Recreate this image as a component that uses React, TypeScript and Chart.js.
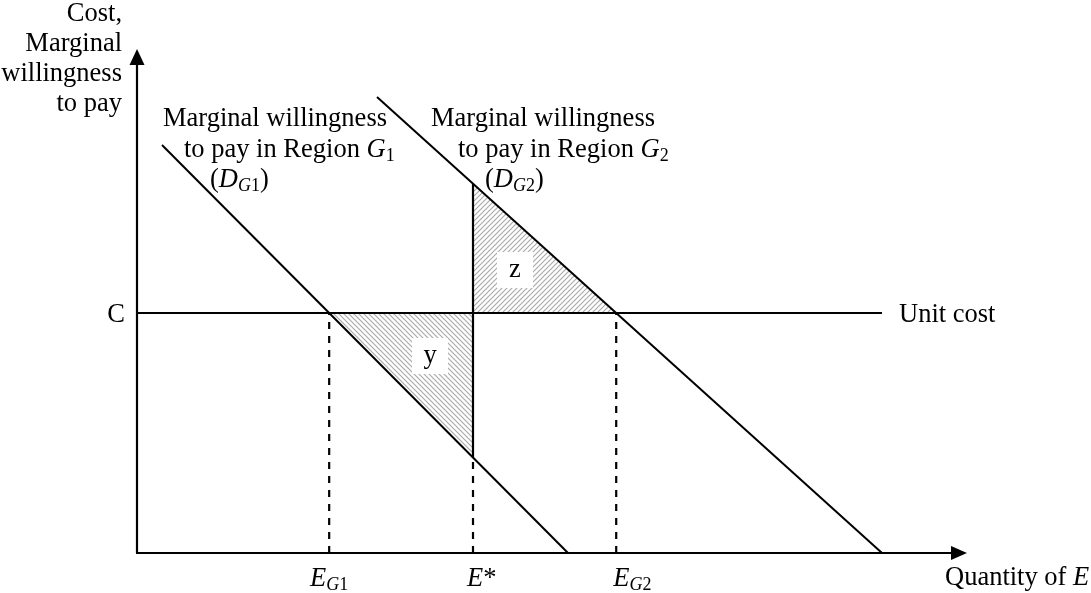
import React, { useEffect, useRef } from "react";
import { Chart, registerables } from "chart.js";

Chart.register(...registerables);

// ---- data (units: quantity on x, cost on y) ----
const demandG1 = [
  { x: 25, y: 408 },
  { x: 431, y: 0 },
];
const demandG2 = [
  { x: 240, y: 456 },
  { x: 745, y: 0 },
];
const UNIT_COST = 240;
const UNIT_COST_END = 745;
const E_STAR = 336;
const X_MAX = 830;
const Y_MAX = 506;
const Y_AXIS_TIP = 504;
const X_AXIS_TIP = 830;

// value of a straight demand line at quantity q
function lineAt(pts: { x: number; y: number }[], q: number) {
  const [a, b] = pts;
  return a.y + ((q - a.x) * (b.y - a.y)) / (b.x - a.x);
}
// quantity where a demand line reaches cost c
function qAt(pts: { x: number; y: number }[], c: number) {
  const [a, b] = pts;
  return a.x + ((c - a.y) * (b.x - a.x)) / (b.y - a.y);
}

const E_G1 = qAt(demandG1, UNIT_COST);
const E_G2 = qAt(demandG2, UNIT_COST);
const D1_AT_ESTAR = lineAt(demandG1, E_STAR);
const D2_AT_ESTAR = lineAt(demandG2, E_STAR);

const FONT = '"Liberation Serif", "Times New Roman", Times, serif';
const MAIN = 26.5;
const SUB = 18;

type Run = { t: string; i?: boolean; sub?: boolean };

function font(r: Run) {
  return `${r.i ? "italic " : ""}${r.sub ? SUB : MAIN}px ${FONT}`;
}

function drawRuns(
  ctx: CanvasRenderingContext2D,
  runs: Run[],
  x: number,
  y: number,
  align: "left" | "right" | "center" = "left"
) {
  let total = 0;
  for (const r of runs) {
    ctx.font = font(r);
    total += ctx.measureText(r.t).width;
  }
  let cx = x;
  if (align === "right") cx = x - total;
  if (align === "center") cx = x - total / 2;
  ctx.textAlign = "left";
  ctx.textBaseline = "alphabetic";
  for (const r of runs) {
    ctx.font = font(r);
    ctx.fillText(r.t, cx, y + (r.sub ? 4 : 0));
    cx += ctx.measureText(r.t).width;
  }
}

function makePattern(dir: "fwd" | "back") {
  const s = 5;
  const c = document.createElement("canvas");
  c.width = s;
  c.height = s;
  const g = c.getContext("2d")!;
  g.strokeStyle = "#ababab";
  g.lineWidth = 1.2;
  g.beginPath();
  if (dir === "fwd") {
    g.moveTo(0, s);
    g.lineTo(s, 0);
    g.moveTo(-1, 1);
    g.lineTo(1, -1);
    g.moveTo(s - 1, s + 1);
    g.lineTo(s + 1, s - 1);
  } else {
    g.moveTo(0, 0);
    g.lineTo(s, s);
    g.moveTo(-1, s - 1);
    g.lineTo(1, s + 1);
    g.moveTo(s - 1, -1);
    g.lineTo(s + 1, 1);
  }
  g.stroke();
  return g.createPattern(c, "repeat")!;
}

const econPlugin = {
  id: "econ",
  afterDatasetsDraw(chart: any) {
    const { ctx, scales } = chart;
    const px = (v: number) => scales.x.getPixelForValue(v);
    const py = (v: number) => scales.y.getPixelForValue(v);
    ctx.save();
    ctx.fillStyle = "#000";
    ctx.strokeStyle = "#000";
    ctx.lineWidth = 2.2;

    // axes with arrow heads
    const ox = px(0);
    const oy = py(0);
    const ty = py(Y_AXIS_TIP);
    const tx = px(X_AXIS_TIP);
    ctx.beginPath();
    ctx.moveTo(ox, oy);
    ctx.lineTo(ox, ty + 12);
    ctx.moveTo(ox - 1, oy);
    ctx.lineTo(tx - 12, oy);
    ctx.stroke();
    ctx.beginPath();
    ctx.moveTo(ox, ty);
    ctx.lineTo(ox - 7.5, ty + 16);
    ctx.lineTo(ox + 7.5, ty + 16);
    ctx.closePath();
    ctx.fill();
    ctx.beginPath();
    ctx.moveTo(tx, oy);
    ctx.lineTo(tx - 16, oy - 7);
    ctx.lineTo(tx - 16, oy + 7);
    ctx.closePath();
    ctx.fill();

    // area labels on white boxes
    const boxes = [
      { t: "z", x: 378, y: 283 },
      { t: "y", x: 293, y: 197 },
    ];
    for (const b of boxes) {
      ctx.fillStyle = "#fff";
      ctx.fillRect(px(b.x) - 18, py(b.y) - 18, 36, 36);
      ctx.fillStyle = "#000";
      ctx.font = `${MAIN}px ${FONT}`;
      ctx.textAlign = "center";
      ctx.textBaseline = "alphabetic";
      ctx.fillText(b.t, px(b.x), py(b.y) + 7);
    }

    ctx.fillStyle = "#000";
    // y-axis title
    const yTitle = ["Cost,", "Marginal", "willingness", "to pay"];
    yTitle.forEach((s, i) => {
      drawRuns(ctx, [{ t: s }], ox - 15, 21 + i * 30, "right");
    });

    // cost level label
    drawRuns(ctx, [{ t: "C" }], ox - 12, py(UNIT_COST) + 9, "right");
    drawRuns(ctx, [{ t: "Unit cost" }], px(UNIT_COST_END) + 17, py(UNIT_COST) + 9);

    // demand labels
    drawRuns(ctx, [{ t: "Marginal willingness" }], px(26), py(427));
    drawRuns(
      ctx,
      [{ t: "to pay in Region " }, { t: "G", i: true }, { t: "1", sub: true }],
      px(47),
      py(396)
    );
    drawRuns(
      ctx,
      [{ t: "(" }, { t: "D", i: true }, { t: "G", i: true, sub: true }, { t: "1", sub: true }, { t: ")" }],
      px(73),
      py(366)
    );
    drawRuns(ctx, [{ t: "Marginal willingness" }], px(294), py(427));
    drawRuns(
      ctx,
      [{ t: "to pay in Region " }, { t: "G", i: true }, { t: "2", sub: true }],
      px(321),
      py(396)
    );
    drawRuns(
      ctx,
      [{ t: "(" }, { t: "D", i: true }, { t: "G", i: true, sub: true }, { t: "2", sub: true }, { t: ")" }],
      px(348),
      py(366)
    );

    // quantity tick labels
    const tickY = oy + 33;
    drawRuns(ctx, [{ t: "E", i: true }, { t: "G", i: true, sub: true }, { t: "1", sub: true }], px(E_G1), tickY, "center");
    drawRuns(ctx, [{ t: "E", i: true }, { t: "*" }], px(E_STAR) - 6, tickY);
    drawRuns(ctx, [{ t: "E", i: true }, { t: "G", i: true, sub: true }, { t: "2", sub: true }], px(E_G2) - 3, tickY);

    // x-axis title
    drawRuns(ctx, [{ t: "Quantity of " }, { t: "E", i: true }], tx - 22, oy + 32);

    ctx.restore();
  },
};

export default function App() {
  const ref = useRef<HTMLCanvasElement>(null);
  useEffect(() => {
    if (!ref.current) return;
    const line = (data: any[], extra: any = {}) => ({
      data,
      showLine: true,
      pointRadius: 0,
      borderColor: "#000",
      borderWidth: 2,
      fill: false,
      clip: false,
      order: 0,
      ...extra,
    });
    const dashed = { borderDash: [7, 7], borderWidth: 2.2 };
    const chart = new Chart(ref.current, {
      type: "scatter",
      data: {
        datasets: [
          line(
            [
              { x: E_G1, y: UNIT_COST },
              { x: E_STAR, y: D1_AT_ESTAR },
            ],
            { borderWidth: 0, fill: { value: UNIT_COST }, backgroundColor: makePattern("back"), order: 10 }
          ),
          line(
            [
              { x: E_STAR, y: D2_AT_ESTAR },
              { x: E_G2, y: UNIT_COST },
            ],
            { borderWidth: 0, fill: { value: UNIT_COST }, backgroundColor: makePattern("fwd"), order: 10 }
          ),
          line(demandG1),
          line(demandG2),
          line(
            [
              { x: 0, y: UNIT_COST },
              { x: UNIT_COST_END, y: UNIT_COST },
            ],
            { borderWidth: 2.2 }
          ),
          line(
            [
              { x: E_STAR, y: D1_AT_ESTAR },
              { x: E_STAR, y: D2_AT_ESTAR },
            ],
            { borderWidth: 2.2 }
          ),
          line(
            [
              { x: E_G1, y: 0 },
              { x: E_G1, y: UNIT_COST },
            ],
            dashed
          ),
          line(
            [
              { x: E_STAR, y: 0 },
              { x: E_STAR, y: D1_AT_ESTAR },
            ],
            dashed
          ),
          line(
            [
              { x: E_G2, y: 0 },
              { x: E_G2, y: UNIT_COST },
            ],
            dashed
          ),
        ],
      },
      options: {
        responsive: false,
        animation: false,
        events: [],
        layout: { padding: { left: 137, right: 1091 - 137 - X_MAX, top: 593 - 40 - Y_MAX, bottom: 40 } },
        scales: {
          x: { type: "linear", min: 0, max: X_MAX, display: false },
          y: { type: "linear", min: 0, max: Y_MAX, display: false },
        },
        plugins: { legend: { display: false }, tooltip: { enabled: false } },
      },
      plugins: [econPlugin],
    });
    return () => chart.destroy();
  }, []);
  return (
    <div style={{ position: "fixed", left: 0, top: 0, width: 1091, height: 593, background: "#fff" }}>
      <canvas ref={ref} width={1091} height={593} style={{ display: "block" }} />
    </div>
  );
}
